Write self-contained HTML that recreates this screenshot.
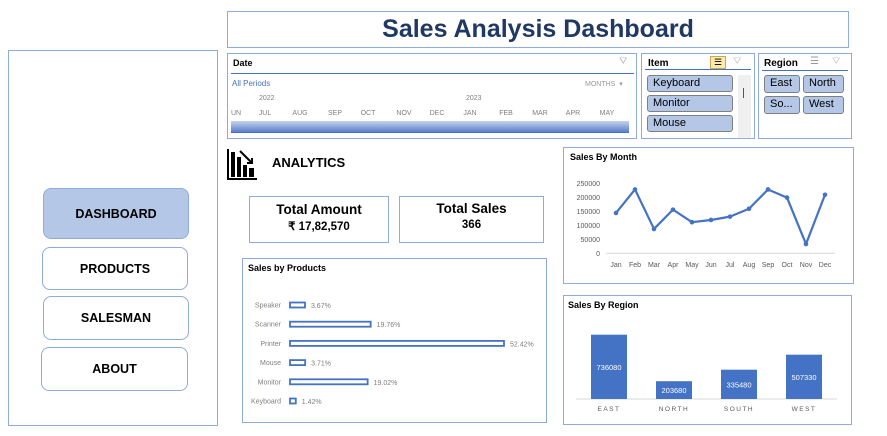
<!DOCTYPE html>
<html><head><meta charset="utf-8">
<style>
*{box-sizing:border-box;margin:0;padding:0}
body{width:887px;height:436px;background:#fff;position:relative;overflow:hidden;font-family:"Liberation Sans",sans-serif}
.abs{position:absolute}
.box{position:absolute;border:1px solid #8faadc;background:#fff}
.btn{position:absolute;border:1px solid #8faadc;border-radius:8px;display:flex;align-items:center;justify-content:center;font-weight:bold;font-size:12.5px;color:#000;background:#fff}
.sbtn{position:absolute;background:#b4c7e7;border:1px solid #7f7f7f;border-radius:3px;font-size:11px;padding-left:5px;line-height:15px;color:#000}
.mon{position:absolute;top:110px;font-size:7px;color:#7f7f7f;transform:translateX(-50%)}
</style></head><body>
<div class="box" style="left:227px;top:11px;width:622px;height:37px;display:flex;align-items:center;justify-content:center">
<span style="font-size:25px;font-weight:bold;color:#1f3864">Sales Analysis Dashboard</span></div>

<div class="box" style="left:8px;top:50px;width:210px;height:376px"></div>
<div class="btn" style="left:43px;top:188px;width:146px;height:51px;background:#b4c7e7">DASHBOARD</div>
<div class="btn" style="left:42px;top:247px;width:146px;height:43px">PRODUCTS</div>
<div class="btn" style="left:43px;top:296px;width:146px;height:44px">SALESMAN</div>
<div class="btn" style="left:41px;top:347px;width:147px;height:44px">ABOUT</div>

<div class="box" style="left:227px;top:53px;width:410px;height:86px">
<div class="abs" style="left:5px;top:4px;font-size:9px;font-weight:bold">Date</div>
<div class="abs" style="left:391px;top:2px;font-size:10px;color:#bbb">⛛</div>
<div class="abs" style="left:3px;top:19px;width:403px;height:1px;background:#4472c4"></div>
<div class="abs" style="left:4px;top:25px;font-size:8px;color:#4472c4">All Periods</div>
<div class="abs" style="left:357px;top:26px;font-size:7px;color:#999">MONTHS &nbsp;▾</div>
<div class="abs" style="left:31px;top:41px;font-size:7px;color:#7f7f7f">2022</div>
<div class="abs" style="left:238px;top:41px;font-size:7px;color:#7f7f7f">2023</div>
</div>
<div class="mon" style="left:236px">UN</div><div class="mon" style="left:265px">JUL</div><div class="mon" style="left:300px">AUG</div><div class="mon" style="left:335px">SEP</div><div class="mon" style="left:368px">OCT</div><div class="mon" style="left:404px">NOV</div><div class="mon" style="left:437px">DEC</div><div class="mon" style="left:470px">JAN</div><div class="mon" style="left:506px">FEB</div><div class="mon" style="left:540px">MAR</div><div class="mon" style="left:573px">APR</div><div class="mon" style="left:607px">MAY</div>
<div class="abs" style="left:231px;top:121px;width:398px;height:12px;background:linear-gradient(#c5d3ee,#5b7fcc);border-bottom:1px solid #4472c4"></div>

<div class="box" style="left:641px;top:53px;width:114px;height:86px">
<div class="abs" style="left:6px;top:4px;font-size:10px;font-weight:bold">Item</div>
<div class="abs" style="left:68px;top:2px;width:16px;height:13px;background:#fde9a9;border:1px solid #c9a94c;font-size:9px;line-height:11px;text-align:center">☰</div>
<div class="abs" style="left:91px;top:2px;font-size:10px;color:#ccc">⛛</div>
<div class="abs" style="left:3px;top:15px;width:106px;height:1px;background:#4472c4"></div>
<div class="abs" style="left:96px;top:21px;width:13px;height:63px;background:#f0f0f0"></div>
<div class="abs" style="left:101px;top:34px;width:1px;height:10px;background:#555"></div>
</div>
<div class="sbtn" style="left:647px;top:75px;width:86px;height:17px">Keyboard</div>
<div class="sbtn" style="left:647px;top:95px;width:86px;height:17px">Monitor</div>
<div class="sbtn" style="left:647px;top:115px;width:86px;height:17px">Mouse</div>

<div class="box" style="left:758px;top:53px;width:94px;height:86px">
<div class="abs" style="left:5px;top:4px;font-size:10px;font-weight:bold">Region</div>
<div class="abs" style="left:51px;top:2px;font-size:10px;color:#999">☰</div>
<div class="abs" style="left:73px;top:2px;font-size:10px;color:#ccc">⛛</div>
<div class="abs" style="left:3px;top:16px;width:86px;height:1px;background:#4472c4"></div>
</div>
<div class="sbtn" style="left:764px;top:75px;width:36px;height:18px">East</div>
<div class="sbtn" style="left:803px;top:75px;width:41px;height:18px">North</div>
<div class="sbtn" style="left:764px;top:96px;width:36px;height:18px">So...</div>
<div class="sbtn" style="left:803px;top:96px;width:41px;height:18px">West</div>

<svg class="abs" style="left:226px;top:148px" width="32" height="34" viewBox="0 0 32 34">
<rect x="1" y="1" width="2" height="31" fill="#000"/><rect x="1" y="30" width="30" height="2" fill="#000"/>
<rect x="5" y="4" width="4" height="25" fill="#000"/><rect x="11" y="9" width="4" height="20" fill="#000"/><rect x="17" y="17" width="4" height="12" fill="#000"/><rect x="23" y="20" width="5" height="9" fill="#000"/>
<path d="M14 3 L25 14" stroke="#000" stroke-width="2"/><path d="M21 15 L26 15 L26 10" stroke="#000" stroke-width="2" fill="none"/>
</svg>
<div class="abs" style="left:272px;top:155px;font-size:13px;font-weight:bold">ANALYTICS</div>

<div class="box" style="left:249px;top:196px;width:140px;height:47px;text-align:center">
<div style="font-size:13.5px;font-weight:bold;margin-top:5px">Total Amount</div>
<div style="font-size:11.5px;font-weight:bold;margin-top:2px">₹ 17,82,570</div></div>
<div class="box" style="left:399px;top:196px;width:145px;height:47px;text-align:center">
<div style="font-size:13.5px;font-weight:bold;margin-top:4px">Total Sales</div>
<div style="font-size:11.5px;font-weight:bold;margin-top:3px">366</div></div>

<div class="box" style="left:242px;top:258px;width:305px;height:165px"></div>
<div class="abs" style="left:248px;top:263px;font-size:9px;font-weight:bold">Sales by Products</div>
<div class="box" style="left:563px;top:147px;width:291px;height:137px"></div>
<div class="abs" style="left:570px;top:152px;font-size:9px;font-weight:bold">Sales By Month</div>
<div class="box" style="left:563px;top:295px;width:289px;height:130px"></div>
<div class="abs" style="left:568px;top:300px;font-size:9px;font-weight:bold">Sales By Region</div>

<svg id="charts" class="abs" style="left:0;top:0" width="887" height="436"></svg>

<script>
const months=["Jan","Feb","Mar","Apr","May","Jun","Jul","Aug","Sep","Oct","Nov","Dec"];
const monthSales=[144000,228000,87000,156000,111000,119000,131000,159000,228000,199000,33000,209000];
const monthTicks=[0,50000,100000,150000,200000,250000];
const products=["Speaker","Scanner","Printer","Mouse","Monitor","Keyboard"];
const productShare=[3.67,19.76,52.42,3.71,19.02,1.42];
const regions=["EAST","NORTH","SOUTH","WEST"];
const regionSales=[736080,203680,335480,507330];

const svg=document.getElementById('charts');
const NS='http://www.w3.org/2000/svg';
function mk(t,a,txt){const e=document.createElementNS(NS,t);for(const k in a)e.setAttribute(k,a[k]);if(txt!==undefined)e.textContent=txt;svg.appendChild(e);return e;}

const mx=i=>616+i*(825-616)/11, my=v=>253.3-v/250000*70;
monthTicks.forEach(t=>{const e=mk('text',{x:600,y:my(t)+2.5,'text-anchor':'end','font-size':7,fill:'#595959','font-family':'Liberation Sans'},String(t));

});
mk('line',{x1:606,x2:835,y1:253.3,y2:253.3,stroke:'#d9d9d9'});
months.forEach((m,i)=>{const e=mk('text',{x:mx(i),y:267,'text-anchor':'middle','font-size':7,fill:'#595959','font-family':'Liberation Sans'},m);

});
const pl=mk('polyline',{points:monthSales.map((v,i)=>mx(i)+','+my(v)).join(' '),fill:'none',stroke:'#4472c4','stroke-width':2.2,'stroke-linejoin':'round'});


monthSales.forEach((v,i)=>{const c=mk('circle',{cx:mx(i),cy:my(v),r:2.3,fill:'#4472c4'});

});

const px=v=>290+v*(214/52.42), py=i=>305+i*19.2;
products.forEach((p,i)=>{const y=py(i);
const l=mk('text',{x:281,y:y+2.5,'text-anchor':'end','font-size':7,fill:'#7f7f7f','font-family':'Liberation Sans'},p);


const r=mk('rect',{x:290,y:y-2.5,width:px(productShare[i])-290,height:5,fill:'#fff',stroke:'#4472c4','stroke-width':1.8});


const v=mk('text',{x:px(productShare[i])+6,y:y+3,'font-size':7,fill:'#7f7f7f','font-family':'Liberation Sans'},productShare[i].toFixed(2)+'%');

});

const rx=i=>591+i*65, ry=v=>v/736080*64.3;
mk('line',{x1:576,x2:837,y1:399,y2:399,stroke:'#d9d9d9'});
regions.forEach((r,i)=>{const h=ry(regionSales[i]);
const b=mk('rect',{x:rx(i),y:399-h,width:36,height:h,fill:'#4472c4'});


const t=mk('text',{x:rx(i)+18,y:399-h/2+3,'text-anchor':'middle','font-size':7.5,fill:'#fff','font-family':'Liberation Sans'},String(regionSales[i]));


const l=mk('text',{x:rx(i)+18,y:411,'text-anchor':'middle','font-size':6.5,fill:'#595959','letter-spacing':1.5,'font-family':'Liberation Sans'},r);

});
</script>
</body></html>
